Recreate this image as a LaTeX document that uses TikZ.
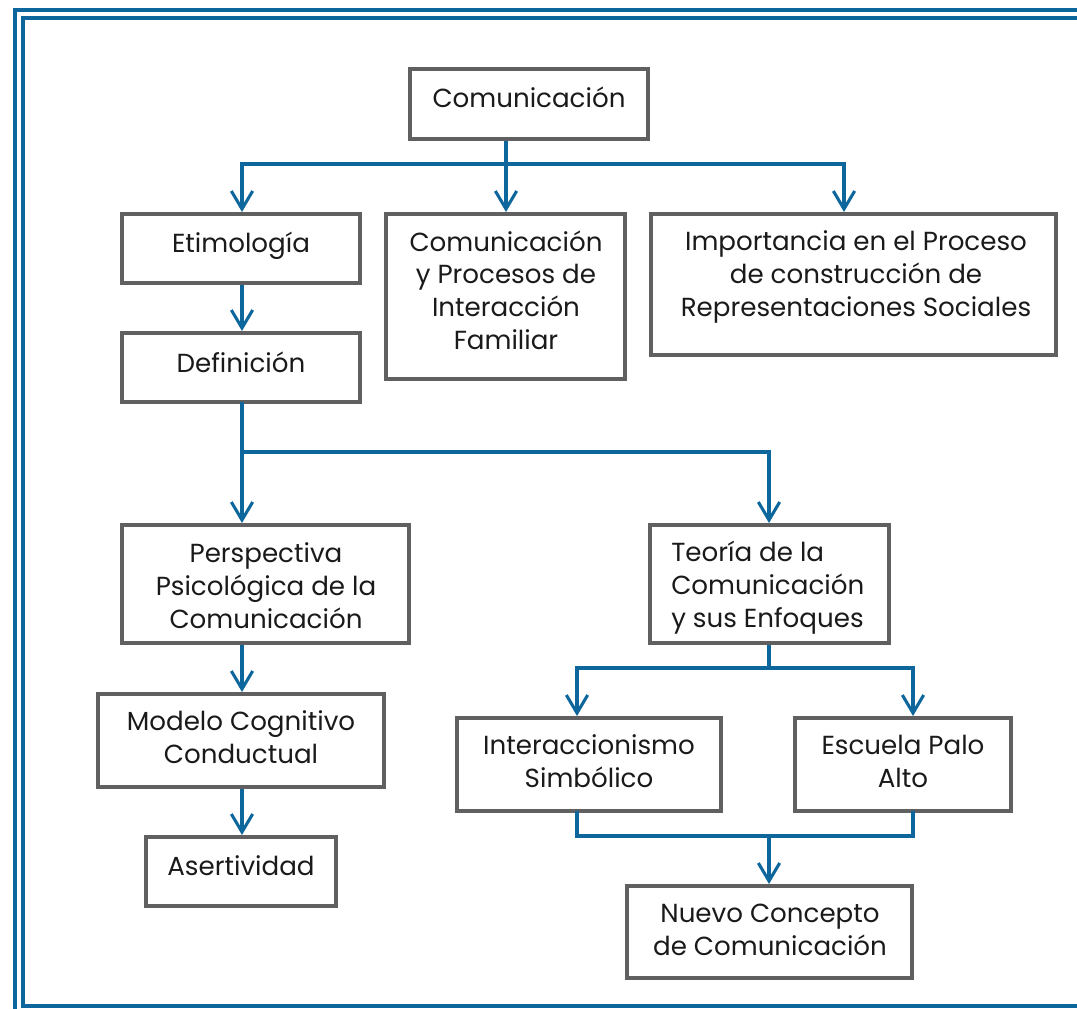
\documentclass[tikz,border=0pt]{standalone}
\usepackage{fontspec}
\setmainfont{Poppins}
\usetikzlibrary{arrows.meta}
\definecolor{frameblue}{HTML}{0E679C}
\definecolor{boxgray}{HTML}{606060}
\definecolor{txtcol}{HTML}{1A1A1A}
\tikzset{
  x=0.75pt, y=-0.75pt,
  box/.style={draw=boxgray, line width=3pt, fill=white, inner sep=0pt},
  txt/.style={anchor=base, inner sep=0pt, text=txtcol, align=center,
     font=\fontsize{19.6}{24.4}\selectfont},
  txtl/.style={txt, align=left, anchor=base west},
  conn/.style={draw=frameblue, line width=2.3pt},
  arr/.style={conn, -{Straight Barb[length=13.5pt,width=16pt]}},
  frameline/.style={draw=frameblue, line width=3pt},
}
\begin{document}
\begin{tikzpicture}
\useasboundingbox (0,0) rectangle (1077,1008);
\clip (0,0) rectangle (1077,1008);
% frame
\draw[frameline] (1100,10) -- (15,10) -- (15,1030);
\draw[frameline] (1100,18) -- (23,18) -- (23,1006) -- (1100,1006);

% boxes
\node[box, minimum width=178.5pt, minimum height=52.5pt] (com) at (529,104) {};
\node[box, minimum width=178.5pt, minimum height=51.75pt] (et) at (241,248.5) {};
\node[box, minimum width=179.25pt, minimum height=123.75pt] (cp) at (505.5,296.5) {};
\node[box, minimum width=303.75pt, minimum height=105.75pt] (imp) at (853.5,284.5) {};
\node[box, minimum width=178.5pt, minimum height=51.75pt] (def) at (241,367.5) {};
\node[box, minimum width=215.25pt, minimum height=88.5pt] (pe) at (265.5,584) {};
\node[box, minimum width=179.25pt, minimum height=88.5pt] (te) at (769.5,584) {};
\node[box, minimum width=214.5pt, minimum height=69.75pt] (mo) at (241,740.5) {};
\node[box, minimum width=142.5pt, minimum height=51.75pt] (as) at (241,871.5) {};
\node[box, minimum width=198pt, minimum height=69.75pt] (in) at (589,764.5) {};
\node[box, minimum width=162pt, minimum height=69.75pt] (es) at (903,764.5) {};
\node[box, minimum width=213.75pt, minimum height=69pt] (nu) at (769.5,932) {};

% texts (anchor = baseline of last line)
\node[txt] (com-t) at (529,107) {Comunicación};
\node[txt] (et-t) at (241,252) {Etimología};
\node[txt] (cp-t) at (506,349) {Comunicación\\y Procesos de\\Interacción\\Familiar};
\node[txt] (imp-t) at (856,316) {Importancia en el Proceso\\de construcción de\\Representaciones Sociales};
\node[txt] (def-t) at (241,372) {Definición};
\node[txt] (pe-t) at (266,628) {Perspectiva\\Psicológica de la\\Comunicación};
\node[txtl] (te-t) at (671,627) {Teoría de la\\Comunicación\\y sus Enfoques};
\node[txt] (mo-t) at (241,763) {Modelo Cognitivo\\Conductual};
\node[txt] (as-t) at (241,875) {Asertividad};
\node[txt] (in-t) at (589,787) {Interaccionismo\\Simbólico};
\node[txt] (es-t) at (903,787) {Escuela Palo\\Alto};
\node[txt] (nu-t) at (770,955) {Nuevo Concepto\\de Comunicación};

% junction coordinates
\coordinate (j1) at (506,164);
\coordinate (j1l) at (242,164);
\coordinate (j1r) at (844,164);
\coordinate (j2) at (242,452);
\coordinate (j3) at (769,668);
\coordinate (j4) at (769,836);
\coordinate (ia) at (577,0);
\coordinate (ea) at (913,0);

% connectors
\draw[conn] (com.south -| j1) -- (j1);
\draw[conn, line cap=rect] (j1l) -- (j1r);
\draw[arr] (j1l) -- (et.north -| j1l);
\draw[arr] (j1) -- (cp.north -| j1);
\draw[arr] (j1r) -- (imp.north -| j1r);
\draw[arr] (et.south -| j2) -- (def.north -| j2);
\draw[conn, line cap=rect] (def.south -| j2) -- (j2) -- (j2 -| j3);
\draw[arr] (j2) -- (pe.north -| j2);
\draw[arr] (j2 -| j3) -- (te.north -| j3);
\draw[arr] (pe.south -| j2) -- (mo.north -| j2);
\draw[arr] (mo.south -| j2) -- (as.north -| j2);
\draw[conn] (te.south -| j3) -- (j3);
\draw[conn, line cap=rect] (j3 -| ia) -- (j3 -| ea);
\draw[arr] (j3 -| ia) -- (in.north -| ia);
\draw[arr] (j3 -| ea) -- (es.north -| ea);
\draw[conn, line cap=rect] (in.south -| ia) -- (j4 -| ia) -- (j4 -| ea) -- (es.south -| ea);
\draw[arr] (j4) -- (nu.north -| j4);
\end{tikzpicture}
\end{document}
